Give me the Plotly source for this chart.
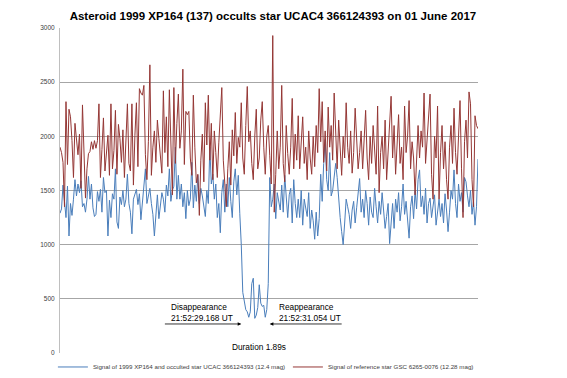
import plotly.graph_objects as go

title_text = "Asteroid 1999 XP164 (137) occults star UCAC4 366124393 on 01 June 2017"
blue_name = "Signal of 1999 XP164 and occulted star UCAC 366124393 (12.4 mag)"
red_name = "Signal of reference star GSC 6265-0076 (12.28 mag)"
y_ticks = [0, 500, 1000, 1500, 2000, 2500, 3000]

blue = [
    1290, 1330, 1550, 1420, 1250, 1540, 1080, 1380, 1270, 1420, 1600, 1450, 1560, 1480, 1590, 1350, 1380, 1300, 1420, 1630,
    1420, 1560, 1340, 1260, 1280, 1490, 1400, 1510, 1300, 1620, 1480, 1500, 1080, 1410, 1250, 1470, 1420, 1700, 1210, 1150,
    1440, 1370, 1500, 1350, 1420, 1650, 1380, 1300, 1100, 1420, 1460, 1510, 1370, 1470, 1230, 1400, 1500, 1700, 1380, 1460,
    1520, 1380, 1280, 1080, 1320, 1460, 1240, 1340, 1480, 1420, 1300, 1550, 1450, 1700, 1400, 1500, 1540, 1900, 1420, 1640,
    1420, 1560, 1350, 1480, 1240, 1500, 1360, 1420, 1760, 1340, 1550, 1400, 1640, 1380, 1520, 1450, 1330, 1260, 1500, 1380,
    1900, 1560, 1650, 1420, 1560, 1250, 1380, 1110, 1480, 1600, 1300, 1560, 1350, 1620, 1400, 1250, 1580, 1700, 1460, 1640,
    1290, 1000, 560, 470, 400, 380, 330, 380, 640, 690, 320, 350, 420, 630, 460, 430, 440, 330, 400, 640,
    1620, 1350, 1420, 1560, 1240, 1480, 1400, 1320, 1550, 1300, 1640, 1380, 1250, 1460, 1520, 1200, 1600, 1380, 1250, 1420,
    1250, 1500, 1180, 1420, 1350, 1260, 1480, 1150, 1320, 1220, 1050, 1300, 1080, 1240, 1650, 1400, 1750, 1970, 1600, 1500,
    1850, 1450, 1500, 1600, 1750, 1620, 1400, 1250, 1120, 1000, 1200, 1420, 1350, 1280, 1150, 1320, 1400, 1200, 1340, 1450,
    1610, 1300, 1420, 1250, 1500, 1380, 1180, 1440, 1300, 1250, 1520, 1350, 1200, 1400, 1280, 1480, 1320, 1150, 1260, 1380,
    1010, 1250, 1380, 1150, 1420, 1300, 1480, 1220, 1350, 1560, 1280, 1400, 1180, 1060, 1350, 1450, 1240, 1500, 1330, 1600,
    1690, 1350, 1450, 1280, 1520, 1200, 1380, 1430, 1250, 1340, 1460, 1180, 1300, 1420, 1260, 1380, 1200, 1470, 1320, 1120,
    1300, 1500, 1420, 1690, 1380, 1250, 1560, 1400, 1480, 1300, 1620, 1580, 1450, 1350, 1500, 1280, 1400, 1180, 1350, 1790,
]

red = [
    1900, 1850, 1760, 1350, 2320, 1740, 2250, 2180, 1960, 1620, 2120, 1980, 1830, 2020, 1520, 2290, 1780, 1430, 1700, 1840,
    1860, 1950, 1880, 1960, 1890, 1960, 2300, 1620, 1880, 2170, 1680, 1840, 2010, 1640, 2300, 1700, 1870, 2240, 1650, 2110,
    1980, 1760, 2060, 1620, 1900, 2300, 1750, 1680, 2300, 1550, 2010, 2310, 1720, 2440, 2400, 2380, 2470, 1830, 1600, 1950,
    2660, 1640, 1900, 2050, 1760, 2150, 1980, 1840, 1660, 2420, 1850, 2180, 1720, 2430, 1960, 1460, 2450, 1750, 2120, 2390,
    1890, 2050, 2620, 1740, 2230, 2200, 2230, 1800, 1640, 2380, 1900, 1570, 1650, 1270, 1780, 2020, 1580, 2310, 1920, 2380,
    1780, 2120, 1600, 2050, 1850, 1620, 1940, 2200, 2450, 1780, 1600, 1350, 1700, 1950, 1550, 2060, 1820, 2220, 1750, 1990,
    1900, 2310, 1800, 1650, 2100, 2460, 1950, 2050, 1750, 1600, 2000, 2250, 1700, 1800, 2150, 2320, 1900, 1650, 2000, 2100,
    1820, 1560, 2930, 1300, 1650, 2050, 1700, 1900, 2470, 1750, 1580, 2100, 1840, 1650, 1900, 2350, 1700, 2020, 1780, 2190,
    1700, 1950, 2180, 1750, 1900, 1600, 2050, 1800, 1650, 2000, 1720, 2100, 1850, 2440, 1950, 2320, 1760, 2050, 1680, 2270,
    1900, 2100, 1780, 2400, 1950, 1700, 2150, 1850, 1640, 2000, 1800, 2310, 1900, 1750, 2050, 1660, 1850, 2260, 1950, 1700,
    1850, 2050, 1700, 1950, 2240, 1800, 1600, 2000, 1750, 2100, 1900, 1650, 2280, 1480, 1850, 2000, 1700, 2150, 1600, 1900,
    2050, 2370, 1800, 2100, 1650, 1950, 2200, 1750, 1900, 1600, 2280, 1850, 2000, 2330, 1700, 1950, 1800, 1460, 1850, 2100,
    1800, 2050, 1900, 2400, 1750, 1950, 2100, 2390, 1650, 1420, 2000, 1800, 2280, 1420, 1850, 2100, 1700, 1950, 1600, 1420,
    1900, 2100, 1750, 2260, 1850, 1650, 2000, 2330, 1700, 1250, 1950, 2150, 1800, 2410, 2300, 1600, 1350, 2190, 2100, 2070,
]

frames = list(range(len(blue)))

# Annotation anchors (frame index, signal level)
disp_frame = 121
reap_frame = 140
arrow_level = 268

fig = go.Figure()
fig.add_trace(go.Scatter(x=frames, y=blue, mode="lines", name=blue_name,
                         line=dict(color="#4A7EBB", width=1)))
fig.add_trace(go.Scatter(x=frames, y=red, mode="lines", name=red_name,
                         line=dict(color="#953735", width=1)))

txt_font = dict(family="Liberation Sans, Arial, sans-serif", size=8.3, color="#000000")

fig.add_annotation(x=disp_frame, y=arrow_level, ax=disp_frame - 52, ay=arrow_level,
                   xref="x", yref="y", axref="x", ayref="y", text="",
                   showarrow=True, arrowhead=2, arrowsize=0.9, arrowwidth=0.8, arrowcolor="#000000")
fig.add_annotation(x=reap_frame, y=arrow_level, ax=reap_frame + 49, ay=arrow_level,
                   xref="x", yref="y", axref="x", ayref="y", text="",
                   showarrow=True, arrowhead=2, arrowsize=0.9, arrowwidth=0.8, arrowcolor="#000000")
fig.add_annotation(x=disp_frame - 48, y=arrow_level - 5, xref="x", yref="y",
                   text="Disappearance<br>21:52:29.168 UT", showarrow=False,
                   xanchor="left", yanchor="bottom", align="left", font=txt_font)
fig.add_annotation(x=reap_frame + 5, y=arrow_level - 5, xref="x", yref="y",
                   text="Reappearance<br>21:52:31.054 UT", showarrow=False,
                   xanchor="left", yanchor="bottom", align="left", font=txt_font)
fig.add_annotation(x=(disp_frame + reap_frame) / 2 + 2, y=55, xref="x", yref="y",
                   text="Duration 1.89s", showarrow=False,
                   xanchor="center", yanchor="middle", font=txt_font)

fig.update_layout(
    width=559, height=370,
    margin=dict(l=52, r=89, t=20, b=25, autoexpand=False),
    paper_bgcolor="white", plot_bgcolor="white",
    title=dict(text="<b>" + title_text + "</b>", x=0.474, xanchor="center",
               y=0.978, yanchor="middle",
               font=dict(family="Liberation Sans, Arial, sans-serif", size=11.5, color="#000000")),
    showlegend=True,
    legend=dict(orientation="h", x=-0.017, xanchor="left", y=-0.043, yanchor="middle",
                font=dict(family="Liberation Sans, Arial, sans-serif", size=6.2, color="#404040"),
                itemwidth=30, tracegroupgap=0, bgcolor="rgba(0,0,0,0)",
                entrywidth=190, entrywidthmode="pixels"),
    xaxis=dict(range=[0, len(blue) - 1], showticklabels=False, showgrid=False,
               zeroline=False, showline=False, ticks=""),
    yaxis=dict(range=[0, 3000], tickvals=y_ticks, showgrid=True, gridcolor="#A6A6A6",
               gridwidth=1, zeroline=False, showline=True, linecolor="#BFBFBF", linewidth=1,
               ticks="", ticklabelstandoff=3,
               tickfont=dict(family="Liberation Sans, Arial, sans-serif", size=6.5, color="#404040")),
)

fig.write_html("out.html")
